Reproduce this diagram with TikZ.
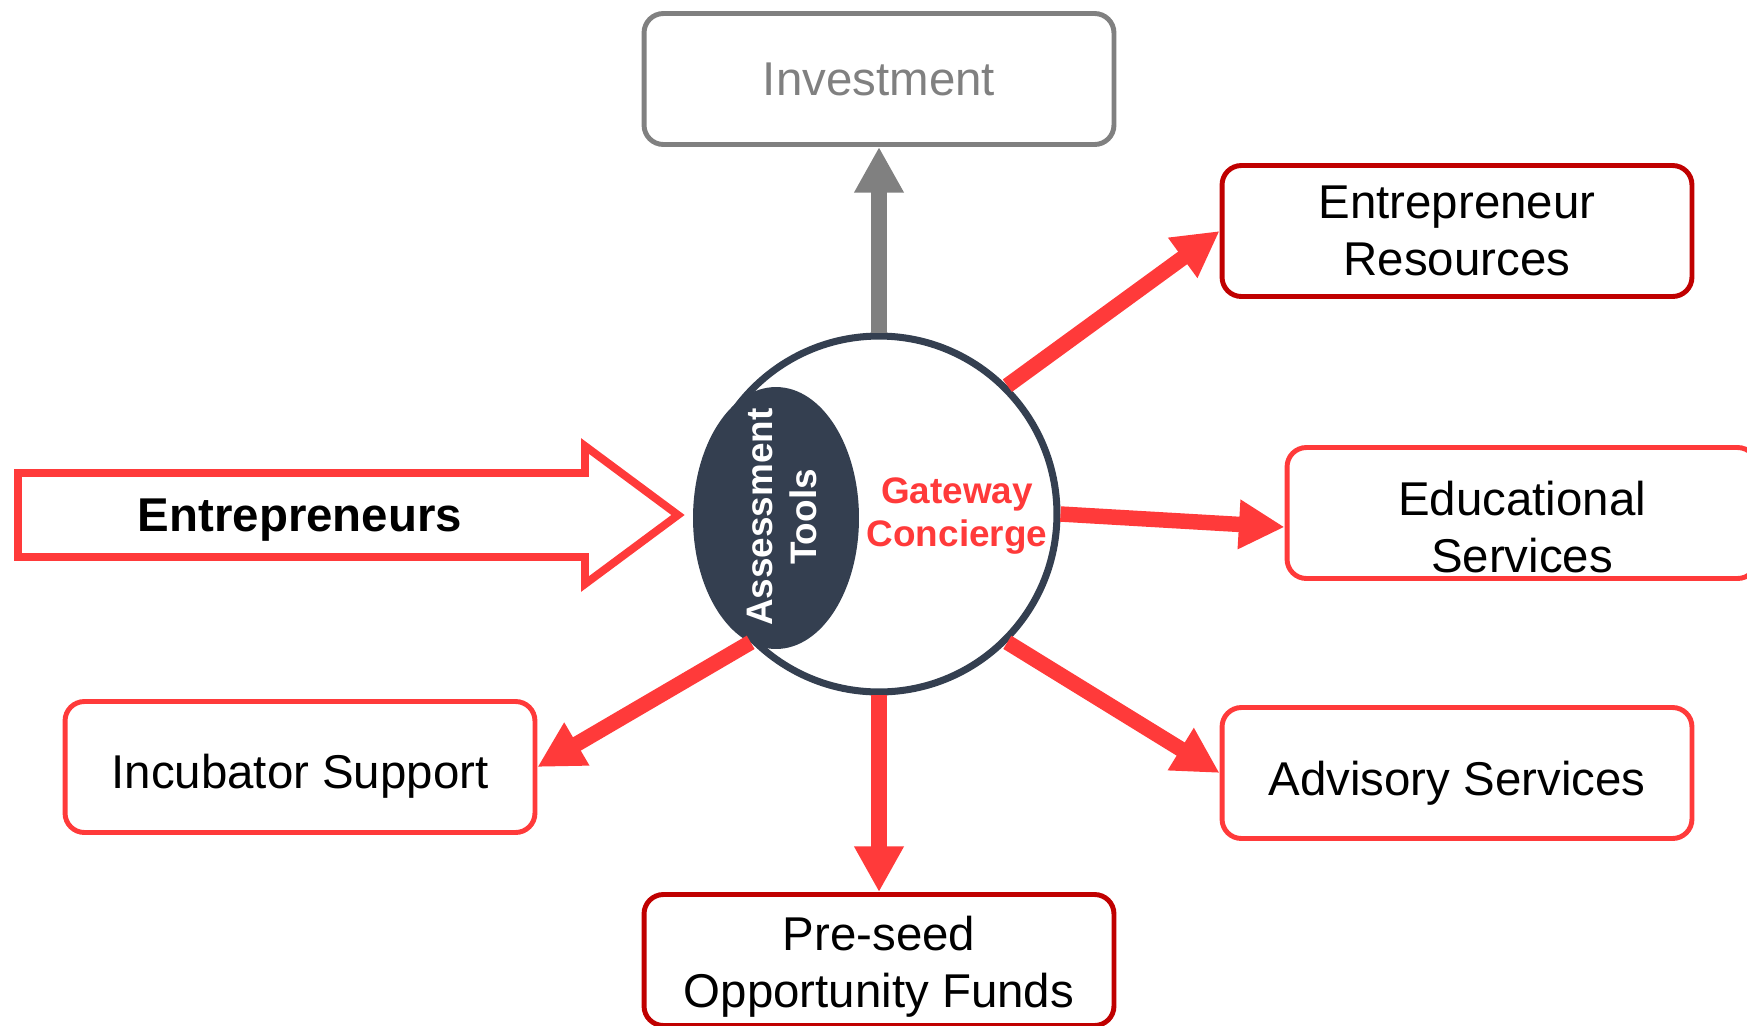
\documentclass[tikz,border=0pt]{standalone}
\usepackage{fontspec}
\setmainfont{Liberation Sans}
\usetikzlibrary{arrows.meta, shapes.geometric}

\definecolor{brightred}{HTML}{FF3A3A}
\definecolor{darkred}{HTML}{C00000}
\definecolor{slate}{HTML}{343F50}
\definecolor{midgray}{HTML}{808080}

\begin{document}
\begin{tikzpicture}[x=0.02cm, y=-0.02cm,
    box/.style={draw=brightred, line width=2.8pt, rounded corners=11pt,
        minimum width=9.4cm, minimum height=2.62cm, fill=white},
    boxtext/.style={align=center, inner sep=0pt, font=\fontsize{27}{32.4}\selectfont},
    link/.style={line width=8.8pt, brightred, -{Triangle[length=26pt, width=26.5pt]}}]
    \useasboundingbox (0,0) rectangle (1747,1025);

    % outer service boxes
    \node[box, draw=midgray] (inv) at (879,79) {};
    \node[boxtext, text=midgray] (invtext) at (inv) {Investment};
    \node[box, draw=darkred] (res) at (1457,231) {};
    \node[boxtext] (restext) at (res) {Entrepreneur\\Resources};
    \node[box] (edu) at (1522,513) {};
    \node[boxtext] (edutext) at ([yshift=-8pt]edu) {Educational\\Services};
    \node[box] (adv) at (1457,773) {};
    \node[boxtext] (advtext) at ([yshift=-5.7pt]adv) {Advisory Services};
    \node[box] (inc) at (300,767) {};
    \node[boxtext] (inctext) at ([yshift=-5pt]inc) {Incubator Support};
    \node[box, draw=darkred] (seed) at (879,960) {};
    \node[boxtext] (seedtext) at ([yshift=-4pt]seed) {Pre-seed\\Opportunity Funds};

    % hollow input arrow
    \draw[brightred, line width=4.5pt] (18,473) -- (585,473) -- (585,446) -- (678,515)
        -- (585,584) -- (585,557) -- (18,557) -- cycle;
    \node[font=\bfseries\fontsize{27}{32.4}\selectfont] (ent) at (300,520) {Entrepreneurs};

    % gateway hub
    \node[circle, draw=slate, line width=4pt, minimum size=7.12cm, fill=white] (gw) at (879,514) {};
    \node[ellipse, fill=slate, inner sep=0pt, minimum width=3.32cm, minimum height=5.24cm] (tools) at (776,518) {};
    \node[rotate=90, align=center, text=white, font=\bfseries\fontsize{21}{25.4}\selectfont]
        (toolstext) at (782,517) {Assessment\\Tools};
    \node[align=center, text=brightred, font=\bfseries\fontsize{21}{25}\selectfont]
        (gwtext) at (957,516) {Gateway\\Concierge};

    % links out of the hub
    \draw[link, midgray] (gw.north) -- (inv.south);
    \draw[link] (gw.45) -- (res.west);
    \draw[link] (gw.east) -- ([yshift=-8pt]edu.west);
    \draw[link] (gw.-45) -- (adv.west);
    \draw[link] (gw.south) -- (seed.north);
    \draw[link] (gw.-135) -- (inc.east);
\end{tikzpicture}
\end{document}
